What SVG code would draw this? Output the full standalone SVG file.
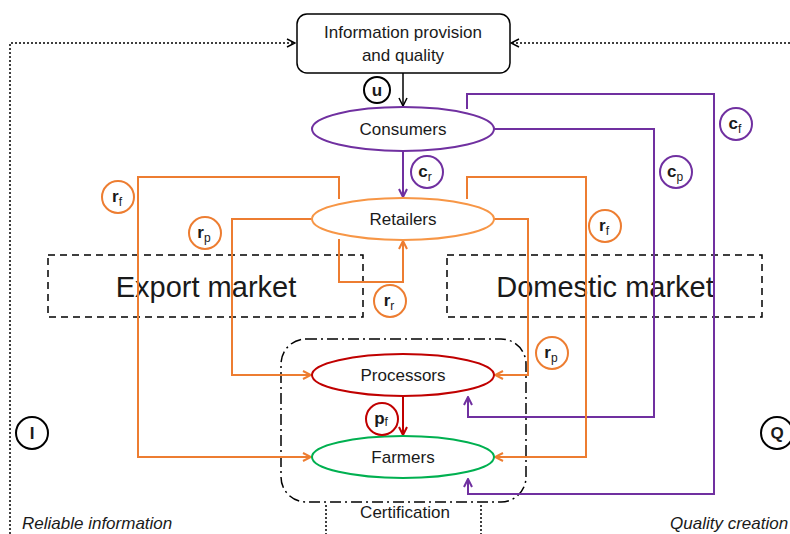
<svg xmlns="http://www.w3.org/2000/svg" width="790" height="534" viewBox="0 0 790 534">
<style>
text{font-family:"Liberation Sans",Arial,sans-serif;fill:#1a1a1a}
.nt{font-size:17px;text-anchor:middle}
.big{font-size:29px;text-anchor:middle}
.it{font-size:17px;font-style:italic}
.lb{font-size:17px;font-weight:bold;text-anchor:middle}
.sb{font-size:12px;font-weight:normal}
.or{fill:none;stroke:#ed7d31;stroke-width:2}
.pu{fill:none;stroke:#7030a0;stroke-width:2}
.rd{fill:none;stroke:#c00000;stroke-width:2}
.bk{fill:none;stroke:#000;stroke-width:1.5}
.dot{fill:none;stroke:#000;stroke-width:1.5;stroke-dasharray:2 2}
.dash{fill:none;stroke:#000;stroke-width:1.5;stroke-dasharray:7 5}
.dd{fill:none;stroke:#000;stroke-width:1.5;stroke-dasharray:11 4 2 4}
.cw{fill:#fff;stroke-width:2}
</style>
<defs>
<marker id="ao" viewBox="0 0 10 10" refX="9" refY="5" markerWidth="10" markerHeight="10" markerUnits="userSpaceOnUse" orient="auto"><path d="M1,1 L9,5 L1,9" fill="none" stroke="#ed7d31" stroke-width="2"/></marker>
<marker id="ap" viewBox="0 0 10 10" refX="9" refY="5" markerWidth="10" markerHeight="10" markerUnits="userSpaceOnUse" orient="auto"><path d="M1,1 L9,5 L1,9" fill="none" stroke="#7030a0" stroke-width="2"/></marker>
<marker id="ar" viewBox="0 0 10 10" refX="9" refY="5" markerWidth="10" markerHeight="10" markerUnits="userSpaceOnUse" orient="auto"><path d="M1,1 L9,5 L1,9" fill="none" stroke="#c00000" stroke-width="2"/></marker>
<marker id="ab" viewBox="0 0 10 10" refX="9" refY="5" markerWidth="10" markerHeight="10" markerUnits="userSpaceOnUse" orient="auto"><path d="M1,1 L9,5 L1,9" fill="none" stroke="#000" stroke-width="1.5"/></marker>
</defs>

<g id="frame">
<path class="dot" d="M10,534 V43 H295" marker-end="url(#ab)"/>
<path class="dot" d="M790,43 H511" marker-end="url(#ab)"/>
<path class="dot" d="M326,505 V534"/>
<path class="dot" d="M481,505 V534"/>
<text class="it" x="22" y="529">Reliable information</text>
<text class="it" x="670" y="529">Quality creation</text>
</g>

<g id="export-market">
<rect class="dash" x="48" y="255" width="315" height="62"/>
<text class="big" x="206" y="297">Export market</text>
</g>
<g id="domestic-market">
<rect class="dash" x="447" y="255" width="315" height="62"/>
<text class="big" x="605" y="297">Domestic market</text>
</g>
<g id="certification">
<rect class="dd" x="281" y="339" width="245" height="163" rx="25"/>
<text class="nt" x="405" y="518">Certification</text>
</g>

<g id="connectors">
<path class="bk" d="M403,73 V106" marker-end="url(#ab)"/>
<path class="pu" d="M403,151 V197" marker-end="url(#ap)"/>
<path class="pu" d="M493,129 H654 V417 H468 V397" marker-end="url(#ap)"/>
<path class="pu" d="M467,109 V94 H714 V494 H468 V479" marker-end="url(#ap)"/>
<path class="or" d="M339,199 V177 H138 V457 H311" marker-end="url(#ao)"/>
<path class="or" d="M312,219 H232 V375 H311" marker-end="url(#ao)"/>
<path class="or" d="M339,239 V282 H403 V241" marker-end="url(#ao)"/>
<path class="or" d="M467,199 V177 H586 V457 H495" marker-end="url(#ao)"/>
<path class="or" d="M493,219 H528 V375 H495" marker-end="url(#ao)"/>
<path class="rd" d="M403,396 V435" marker-end="url(#ar)"/>
</g>

<g id="info">
<rect x="297" y="14" width="213" height="59" rx="10" fill="#fff" stroke="#000" stroke-width="1.5"/>
<text class="nt" x="403" y="38">Information provision</text>
<text class="nt" x="403" y="61">and quality</text>
</g>
<g id="consumers">
<ellipse cx="403" cy="129" rx="91" ry="22" fill="#fff" stroke="#7030a0" stroke-width="2"/>
<text class="nt" x="403" y="135">Consumers</text>
</g>
<g id="retailers">
<ellipse cx="403" cy="219" rx="91" ry="21" fill="#fff" stroke="#f79646" stroke-width="2"/>
<text class="nt" x="403" y="225">Retailers</text>
</g>
<g id="processors">
<ellipse cx="403" cy="375" rx="91" ry="21" fill="#fff" stroke="#c00000" stroke-width="2"/>
<text class="nt" x="403" y="381">Processors</text>
</g>
<g id="farmers">
<ellipse cx="403" cy="457" rx="91" ry="21" fill="#fff" stroke="#00b050" stroke-width="2"/>
<text class="nt" x="403" y="463">Farmers</text>
</g>

<g id="label-u"><circle class="cw" cx="377" cy="90" r="13" stroke="#000"/><text class="lb" x="377" y="96">u</text></g>
<g id="label-cr"><circle class="cw" cx="427" cy="172" r="16" stroke="#7030a0"/><text class="lb" x="425" y="177">c<tspan class="sb" dy="4">r</tspan></text></g>
<g id="label-cp"><circle class="cw" cx="676" cy="172" r="16" stroke="#7030a0"/><text class="lb" x="675" y="177">c<tspan class="sb" dy="4">p</tspan></text></g>
<g id="label-cf"><circle class="cw" cx="736" cy="124" r="16" stroke="#7030a0"/><text class="lb" x="735" y="129">c<tspan class="sb" dy="4">f</tspan></text></g>
<g id="label-rf-left"><circle class="cw" cx="118" cy="197" r="16" stroke="#ed7d31"/><text class="lb" x="117" y="202">r<tspan class="sb" dy="4">f</tspan></text></g>
<g id="label-rp-left"><circle class="cw" cx="205" cy="233" r="16" stroke="#ed7d31"/><text class="lb" x="204" y="238">r<tspan class="sb" dy="4">p</tspan></text></g>
<g id="label-rr"><circle class="cw" cx="390" cy="301" r="16" stroke="#ed7d31"/><text class="lb" x="389" y="306">r<tspan class="sb" dy="4">r</tspan></text></g>
<g id="label-rf-right"><circle class="cw" cx="605" cy="226" r="16" stroke="#ed7d31"/><text class="lb" x="604" y="231">r<tspan class="sb" dy="4">f</tspan></text></g>
<g id="label-rp-right"><circle class="cw" cx="552" cy="353" r="16" stroke="#ed7d31"/><text class="lb" x="551" y="358">r<tspan class="sb" dy="4">p</tspan></text></g>
<g id="label-pf"><circle class="cw" cx="382" cy="419" r="16" stroke="#c00000"/><text class="lb" x="381" y="424">p<tspan class="sb" dy="2">f</tspan></text></g>
<g id="label-I"><circle class="cw" cx="32" cy="433" r="16" stroke="#000"/><text class="lb" x="32" y="439">I</text></g>
<g id="label-Q"><circle class="cw" cx="777" cy="433" r="16" stroke="#000"/><text class="lb" x="777" y="439">Q</text></g>
</svg>
